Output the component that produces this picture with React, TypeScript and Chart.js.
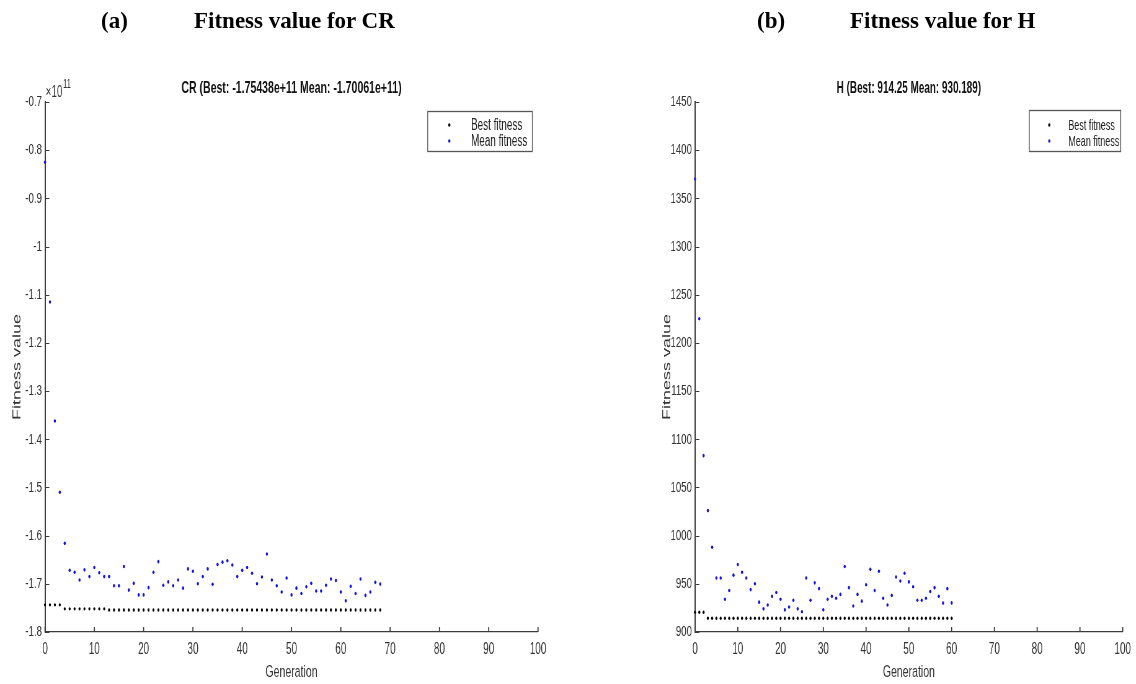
import React, { useEffect, useRef } from "react";
import { Chart, registerables } from "chart.js";

Chart.register(...registerables);

// ---------- data ----------
const crGenerations = [
  0, 1, 2, 3, 4, 5, 6, 7, 8, 9, 10, 11, 12, 13, 14, 15, 16, 17, 18, 19, 20, 21, 22, 23, 24, 25, 26, 27, 28, 29,
  30, 31, 32, 33, 34, 35, 36, 37, 38, 39, 40, 41, 42, 43, 44, 45, 46, 47, 48, 49, 50, 51, 52, 53, 54, 55, 56, 57,
  58, 59, 60, 61, 62, 63, 64, 65, 66, 67, 68,
];
// values in units of 1e11
const crBest = [
  -1.7436, -1.7436, -1.7436, -1.7436, -1.752, -1.752, -1.752, -1.752, -1.752, -1.752, -1.752, -1.752, -1.752,
  -1.75438, -1.75438, -1.75438, -1.75438, -1.75438, -1.75438, -1.75438, -1.75438, -1.75438, -1.75438, -1.75438,
  -1.75438, -1.75438, -1.75438, -1.75438, -1.75438, -1.75438, -1.75438, -1.75438, -1.75438, -1.75438, -1.75438,
  -1.75438, -1.75438, -1.75438, -1.75438, -1.75438, -1.75438, -1.75438, -1.75438, -1.75438, -1.75438, -1.75438,
  -1.75438, -1.75438, -1.75438, -1.75438, -1.75438, -1.75438, -1.75438, -1.75438, -1.75438, -1.75438, -1.75438,
  -1.75438, -1.75438, -1.75438, -1.75438, -1.75438, -1.75438, -1.75438, -1.75438, -1.75438, -1.75438, -1.75438,
  -1.75438,
];
const crMean = [
  -0.825, -1.115, -1.362, -1.51, -1.616, -1.672, -1.676, -1.692, -1.671, -1.685, -1.666, -1.677, -1.685, -1.685,
  -1.704, -1.704, -1.664, -1.713, -1.699, -1.723, -1.723, -1.708, -1.676, -1.654, -1.703, -1.696, -1.704, -1.692,
  -1.709, -1.669, -1.674, -1.7, -1.685, -1.669, -1.701, -1.66, -1.655, -1.652, -1.661, -1.685, -1.672, -1.666,
  -1.678, -1.7, -1.686, -1.638, -1.692, -1.704, -1.717, -1.688, -1.723, -1.709, -1.72, -1.706, -1.699, -1.715,
  -1.715, -1.703, -1.69, -1.693, -1.717, -1.735, -1.705, -1.72, -1.69, -1.724, -1.717, -1.697, -1.70061,
];
const crYTicks = [-1.8, -1.7, -1.6, -1.5, -1.4, -1.3, -1.2, -1.1, -1.0, -0.9, -0.8, -0.7];

const hGenerations = [
  0, 1, 2, 3, 4, 5, 6, 7, 8, 9, 10, 11, 12, 13, 14, 15, 16, 17, 18, 19, 20, 21, 22, 23, 24, 25, 26, 27, 28, 29,
  30, 31, 32, 33, 34, 35, 36, 37, 38, 39, 40, 41, 42, 43, 44, 45, 46, 47, 48, 49, 50, 51, 52, 53, 54, 55, 56, 57,
  58, 59, 60,
];
const hBest = [
  920.5, 920.5, 920.5, 914.25, 914.25, 914.25, 914.25, 914.25, 914.25, 914.25, 914.25, 914.25, 914.25, 914.25,
  914.25, 914.25, 914.25, 914.25, 914.25, 914.25, 914.25, 914.25, 914.25, 914.25, 914.25, 914.25, 914.25, 914.25,
  914.25, 914.25, 914.25, 914.25, 914.25, 914.25, 914.25, 914.25, 914.25, 914.25, 914.25, 914.25, 914.25, 914.25,
  914.25, 914.25, 914.25, 914.25, 914.25, 914.25, 914.25, 914.25, 914.25, 914.25, 914.25, 914.25, 914.25, 914.25,
  914.25, 914.25, 914.25, 914.25, 914.25,
];
const hMean = [
  1370, 1225, 1083, 1026, 988, 956, 956, 934, 943, 959, 970, 962, 956, 944, 950, 931, 924, 928, 937, 941, 934,
  923, 926, 933, 924, 921, 956, 933, 951, 945, 923, 934, 937, 935, 939, 968, 946, 927, 939, 932, 949, 965, 943,
  963, 935, 928, 938, 957, 953, 961, 952, 947, 933, 933, 935, 942, 946, 937, 930, 945, 930.19,
];
const hYTicks = [900, 950, 1000, 1050, 1100, 1150, 1200, 1250, 1300, 1350, 1400, 1450];

const xTicks = [0, 10, 20, 30, 40, 50, 60, 70, 80, 90, 100];
const seriesLabels = ["Best fitness", "Mean fitness"];

// ---------- styling ----------
const S = 0.62; // horizontal compression of the original figure
const PANEL_W = 568;
const CANVAS_W = Math.round(PANEL_W / S);
const H = 684;
const FONT = "'Liberation Sans', Arial, Helvetica, sans-serif";
const AXIS = "#3c3c3c";
const TEXT = "#333333";
const BEST_COLOR = "#000000";
const MEAN_COLOR = "#1212e6";

interface LegendSpec {
  left: number;
  right: number;
  top: number;
  bottom: number;
  markerX: number;
  textX: number;
  rows: number[];
  size: number;
}

interface PanelSpec {
  wrapLeft: number;
  chartLeft: number;
  chartRight: number;
  chartTop: number;
  chartBottom: number;
  yLabelX: number;
  gens: number[];
  best: number[];
  mean: number[];
  yMin: number;
  yMax: number;
  yTicks: number[];
  yFmt: (v: number) => string;
  title: string;
  titleSize: number;
  exponent: boolean;
  legend: LegendSpec;
}

const decorPlugin = {
  id: "decor",
  afterDraw(chart: any, _args: any, opts: any) {
    const { ctx, chartArea, scales } = chart;
    const xs = scales.x;
    const ys = scales.y;
    const cx = (x: number) => (x - opts.wrapLeft) / S;
    ctx.save();
    // inward tick marks
    ctx.strokeStyle = AXIS;
    ctx.lineWidth = 1.8;
    ctx.beginPath();
    xs.ticks.forEach((t: any) => {
      const px = xs.getPixelForValue(t.value);
      ctx.moveTo(px, chartArea.bottom);
      ctx.lineTo(px, chartArea.bottom - 5);
    });
    ctx.stroke();
    ctx.lineWidth = 1.1;
    ctx.beginPath();
    ys.ticks.forEach((t: any) => {
      const py = Math.round(ys.getPixelForValue(t.value)) + 0.5;
      ctx.moveTo(chartArea.left, py);
      ctx.lineTo(chartArea.left + 7, py);
    });
    ctx.stroke();

    // title
    ctx.fillStyle = "#111";
    ctx.font = `bold ${opts.titleSize}px ${FONT}`;
    ctx.textAlign = "center";
    ctx.textBaseline = "alphabetic";
    ctx.fillText(opts.title, (chartArea.left + chartArea.right) / 2, 93);

    // exponent
    if (opts.exponent) {
      ctx.fillStyle = TEXT;
      ctx.textAlign = "left";
      ctx.font = `16px ${FONT}`;
      const x0 = chartArea.left + 1;
      ctx.fillText("\u00d710", x0, 97);
      const w = ctx.measureText("\u00d710").width;
      ctx.font = `12px ${FONT}`;
      ctx.fillText("11", x0 + w + 1, 88);
    }

    // legend
    const L: LegendSpec = opts.legend;
    const l = cx(L.left);
    const r = cx(L.right);
    ctx.fillStyle = "#ffffff";
    ctx.fillRect(l, L.top, r - l, L.bottom - L.top);
    ctx.strokeStyle = "#555";
    ctx.lineWidth = 1.3;
    ctx.strokeRect(l, L.top + 0.5, r - l, L.bottom - L.top);
    chart.data.datasets.forEach((ds: any, i: number) => {
      const y = L.rows[i];
      ctx.fillStyle = ds.backgroundColor;
      ctx.beginPath();
      ctx.arc(cx(L.markerX), y, 1.8, 0, Math.PI * 2);
      ctx.fill();
      ctx.fillStyle = "#222";
      ctx.font = `${L.size}px ${FONT}`;
      ctx.textAlign = "left";
      ctx.textBaseline = "middle";
      ctx.fillText(ds.label, cx(L.textX), y + 1);
    });
    ctx.restore();
  },
};

function buildChart(canvas: HTMLCanvasElement, p: PanelSpec) {
  const cx = (x: number) => (x - p.wrapLeft) / S;
  const chartLeftC = cx(p.chartLeft);
  const chartRightC = cx(p.chartRight);
  const yLabelC = cx(p.yLabelX);
  const padLeft = Math.max(0, yLabelC - 26);
  const yTitleSize = 18;
  const yTitlePad = yLabelC - padLeft - (yTitleSize * 1.2) / 2;

  const pts = (vals: number[]) => p.gens.map((g, i) => ({ x: g, y: vals[i] }));

  return new Chart(canvas, {
    type: "scatter",
    data: {
      datasets: [
        {
          label: seriesLabels[0],
          data: pts(p.best),
          backgroundColor: BEST_COLOR,
          borderColor: BEST_COLOR,
          borderWidth: 0,
          pointRadius: 1.7,
          pointHoverRadius: 1.7,
          clip: false,
        },
        {
          label: seriesLabels[1],
          data: pts(p.mean),
          backgroundColor: MEAN_COLOR,
          borderColor: MEAN_COLOR,
          borderWidth: 0,
          pointRadius: 1.8,
          pointHoverRadius: 1.8,
          clip: false,
        },
      ],
    },
    options: {
      responsive: false,
      animation: false,
      devicePixelRatio: 1,
      layout: {
        padding: { left: padLeft, right: CANVAS_W - chartRightC, top: p.chartTop, bottom: 0 },
      },
      plugins: {
        legend: { display: false },
        tooltip: { enabled: false },
        title: { display: false },
        decor: {
          wrapLeft: p.wrapLeft,
          title: p.title,
          titleSize: p.titleSize,
          exponent: p.exponent,
          legend: p.legend,
        },
      } as any,
      scales: {
        x: {
          type: "linear",
          min: 0,
          max: 100,
          afterBuildTicks: (s: any) => {
            s.ticks = xTicks.map((v) => ({ value: v }));
          },
          afterFit: (s: any) => {
            s.height = H - p.chartBottom;
          },
          grid: { display: false, drawTicks: false },
          border: { display: true, color: AXIS, width: 1.2 },
          ticks: {
            padding: 8,
            color: TEXT,
            autoSkip: false,
            maxRotation: 0,
            font: { family: FONT, size: 16 },
            callback: (v: any) => String(v),
          },
          title: {
            display: true,
            text: "Generation",
            color: TEXT,
            font: { family: FONT, size: 17 },
            padding: { top: 0, bottom: 1 },
          },
        },
        y: {
          type: "linear",
          min: p.yMin,
          max: p.yMax,
          afterBuildTicks: (s: any) => {
            s.ticks = p.yTicks.map((v) => ({ value: v }));
          },
          afterFit: (s: any) => {
            s.width = chartLeftC - padLeft;
          },
          grid: { display: false, drawTicks: false },
          border: { display: true, color: AXIS, width: 2 },
          ticks: {
            padding: 5,
            color: TEXT,
            autoSkip: false,
            font: { family: FONT, size: 15.5 },
            callback: (v: any) => p.yFmt(Number(v)),
          },
          title: {
            display: true,
            text: "Fitness value",
            color: TEXT,
            font: { family: FONT, size: yTitleSize },
            padding: { top: yTitlePad, bottom: 0 },
          },
        },
      },
    } as any,
    plugins: [decorPlugin],
  });
}

const crPanel: PanelSpec = {
  wrapLeft: 0,
  chartLeft: 45,
  chartRight: 538,
  chartTop: 102,
  chartBottom: 632,
  yLabelX: 17.5,
  gens: crGenerations,
  best: crBest,
  mean: crMean,
  yMin: -1.8,
  yMax: -0.7,
  yTicks: crYTicks,
  yFmt: (v) => String(Math.round(v * 10) / 10),
  title: "CR (Best: -1.75438e+11 Mean: -1.70061e+11)",
  titleSize: 17,
  exponent: true,
  legend: { left: 427.7, right: 532.3, top: 111, bottom: 151, markerX: 449.3, textX: 471, rows: [125, 141], size: 16 },
};

const hPanel: PanelSpec = {
  wrapLeft: 568,
  chartLeft: 695,
  chartRight: 1125,
  chartTop: 102,
  chartBottom: 632,
  yLabelX: 667.5,
  gens: hGenerations,
  best: hBest,
  mean: hMean,
  yMin: 900,
  yMax: 1450,
  yTicks: hYTicks,
  yFmt: (v) => String(Math.round(v)),
  title: "H (Best: 914.25 Mean: 930.189)",
  titleSize: 16,
  exponent: false,
  legend: { left: 1029.3, right: 1120.7, top: 110, bottom: 151, markerX: 1049.3, textX: 1068.3, rows: [125, 141], size: 14.5 },
};

function Panel({ spec }: { spec: PanelSpec }) {
  const ref = useRef<HTMLCanvasElement | null>(null);
  useEffect(() => {
    if (!ref.current) return;
    const chart = buildChart(ref.current, spec);
    return () => chart.destroy();
  }, [spec]);
  return (
    <div
      style={{
        position: "absolute",
        left: spec.wrapLeft,
        top: 0,
        width: CANVAS_W,
        height: H,
        transform: `scaleX(${S})`,
        transformOrigin: "0 0",
      }}
    >
      <canvas ref={ref} width={CANVAS_W} height={H} />
    </div>
  );
}

const headingStyle: React.CSSProperties = {
  position: "absolute",
  top: 8,
  fontFamily: "'Liberation Serif', 'Times New Roman', serif",
  fontWeight: "bold",
  fontSize: 23,
  lineHeight: "26px",
  color: "#000",
  whiteSpace: "nowrap",
};

export default function App() {
  return (
    <div
      style={{
        position: "absolute",
        left: 0,
        top: 0,
        width: 1136,
        height: H,
        background: "#ffffff",
        overflow: "hidden",
      }}
    >
      <Panel spec={crPanel} />
      <Panel spec={hPanel} />
      <div style={{ ...headingStyle, left: 101 }}>(a)</div>
      <div style={{ ...headingStyle, left: 194 }}>Fitness value for CR</div>
      <div style={{ ...headingStyle, left: 757 }}>(b)</div>
      <div style={{ ...headingStyle, left: 850 }}>Fitness value for H</div>
    </div>
  );
}
